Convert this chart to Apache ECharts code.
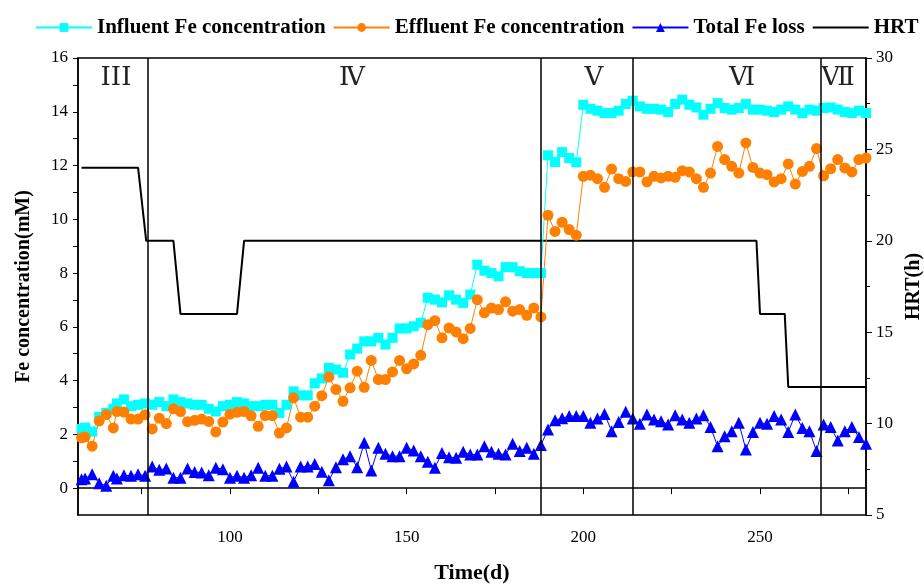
<!DOCTYPE html>
<html lang="en">
<head>
    <meta charset="UTF-8">
    <title>Fe concentration</title>
    <script type="text/javascript" src="https://cdn.jsdelivr.net/npm/echarts@6/dist/echarts.min.js"></script>
</head>
<body style="margin:0">
<div id="main" style="width:924px;height:585px"></div>
<script type="text/javascript">
    // sampling days (d)
    var days = [58,59,61,63,65,67,68,70,72,74,
        76,78,80,82,84,86,88,90,92,94,
        96,98,100,102,104,106,108,110,112,114,
        116,118,120,122,124,126,128,130,132,134,
        136,138,140,142,144,146,148,150,152,154,
        156,158,160,162,164,166,168,170,172,174,
        176,178,180,182,184,186,188,190,192,194,
        196,198,200,202,204,206,208,210,212,214,
        216,218,220,222,224,226,228,230,232,234,
        236,238,240,242,244,246,248,250,252,254,
        256,258,260,262,264,266,268,270,272,274,
        276,278,280];

    var influent = [2.2,2.25,2.1,2.65,2.8,2.95,3.15,3.3,3.05,3.1,
        3.15,3.1,3.2,3.05,3.3,3.2,3.15,3.1,3.1,2.95,
        2.85,3.05,3.1,3.2,3.15,3.05,3.05,3.1,3.1,2.8,
        3.1,3.6,3.45,3.45,3.9,4.08,4.47,4.41,4.29,4.97,
        5.19,5.46,5.46,5.59,5.34,5.59,5.94,5.94,6.02,6.15,
        7.08,7.01,6.91,7.17,7.01,6.89,7.2,8.31,8.09,8.0,
        7.88,8.22,8.22,8.07,8.0,8.0,8.0,12.38,12.13,12.5,
        12.28,12.12,14.26,14.11,14.04,13.95,13.95,14.04,14.29,14.41,
        14.2,14.11,14.11,14.08,13.99,14.29,14.45,14.26,14.16,13.89,
        14.11,14.32,14.14,14.08,14.14,14.29,14.08,14.08,14.04,13.99,
        14.08,14.2,14.08,13.95,14.08,14.04,14.14,14.16,14.08,13.99,
        13.95,14.04,13.95];

    var effluent = [1.87,1.9,1.56,2.5,2.73,2.24,2.85,2.83,2.57,2.57,
        2.73,2.2,2.6,2.4,2.95,2.85,2.47,2.52,2.57,2.48,
        2.09,2.46,2.75,2.82,2.85,2.69,2.3,2.7,2.7,2.05,
        2.24,3.36,2.64,2.64,3.05,3.44,4.13,3.67,3.23,3.73,
        4.35,3.75,4.75,4.04,4.04,4.32,4.75,4.44,4.62,4.94,
        6.08,6.23,5.59,5.96,5.81,5.56,5.94,7.01,6.52,6.7,
        6.64,6.93,6.58,6.64,6.43,6.7,6.37,10.15,9.55,9.89,
        9.62,9.41,11.6,11.64,11.51,11.19,11.87,11.51,11.41,11.76,
        11.76,11.39,11.6,11.54,11.6,11.56,11.81,11.76,11.51,11.19,
        11.72,12.71,12.22,11.97,11.72,12.84,11.93,11.72,11.66,11.39,
        11.51,12.06,11.31,11.78,11.97,12.63,11.62,11.88,12.22,11.91,
        11.76,12.22,12.28];

    var feLoss = [0.33,0.36,0.52,0.18,0.09,0.46,0.36,0.48,0.46,0.52,
        0.46,0.8,0.68,0.73,0.39,0.39,0.73,0.6,0.58,0.48,
        0.76,0.7,0.39,0.46,0.39,0.48,0.76,0.46,0.46,0.72,
        0.8,0.24,0.8,0.8,0.9,0.61,0.29,0.78,1.07,1.19,
        0.78,1.69,0.66,1.5,1.28,1.19,1.19,1.5,1.4,1.19,
        0.98,0.76,1.31,1.15,1.13,1.35,1.25,1.25,1.56,1.35,
        1.28,1.25,1.65,1.38,1.5,1.28,1.6,2.18,2.52,2.6,
        2.68,2.68,2.68,2.43,2.59,2.76,2.12,2.46,2.84,2.59,
        2.39,2.74,2.55,2.49,2.37,2.71,2.55,2.43,2.59,2.71,
        2.27,1.56,1.93,2.12,2.43,1.44,2.09,2.43,2.39,2.68,
        2.55,2.09,2.74,2.24,2.12,1.38,2.37,2.27,1.77,2.12,
        2.27,1.9,1.65];

    // HRT step line (day, h)
    var hrtDays = [58,74,76.3,84,86,102,104,249,250,257,258,280];
    var hrtValues = [24,24,20,20,16,16,20,20,16,16,12,12];

    // stage boundaries and labels
    var stageLines = [76.6,187.9,214,267.2];
    var stageNames = ['III','Ⅳ','Ⅴ','Ⅵ','Ⅶ'];
    var stageLabelX = [116,352,594,742,838];

    var xTicks = [75,100,125,150,175,200,225,250,275];
    var xLabels = [100,150,200,250];
    var yTicks = [0,1,2,3,4,5,6,7,8,9,10,11,12,13,14,15,16];
    var yLabels = [0,2,4,6,8,10,12,14,16];

    function pairs(xs, ys) {
        return xs.map(function (d, i) { return [d, ys[i]]; });
    }

    var serif = '"Liberation Serif", "Times New Roman", serif';
    var chart = echarts.init(document.getElementById('main'));

    chart.setOption({
        animation: false,
        textStyle: {fontFamily: serif},
        grid: {left: 78, right: 58, top: 58, bottom: 70, show: true, outerBoundsMode: 'none',
            borderColor: '#000', borderWidth: 1.5, backgroundColor: 'transparent'},
        legend: {
            top: 12, left: 30, width: 894, itemWidth: 56, itemHeight: 11, itemGap: 7,
            textStyle: {fontFamily: serif, fontWeight: 'bold', fontSize: 21, color: '#000'},
            data: ['Influent Fe concentration', 'Effluent Fe concentration', 'Total Fe loss',
                {name: 'HRT', itemStyle: {opacity: 0}}]
        },
        xAxis: {
            type: 'value', min: 57, max: 280,
            name: 'Time(d)', nameLocation: 'middle', nameGap: 47,
            nameTextStyle: {fontFamily: serif, fontWeight: 'bold', fontSize: 22, color: '#000'},
            axisLine: {lineStyle: {color: '#000', width: 1.5}},
            axisTick: {customValues: xTicks, length: 6, lineStyle: {color: '#000'}},
            axisLabel: {customValues: xLabels, fontSize: 17, color: '#000', margin: 14},
            splitLine: {show: false}
        },
        yAxis: [{
            type: 'value', min: -1, max: 16,
            name: 'Fe concentration(mM)', nameLocation: 'middle', nameGap: 44,
            nameTextStyle: {fontFamily: serif, fontWeight: 'bold', fontSize: 20, color: '#000'},
            axisLine: {show: true, lineStyle: {color: '#000', width: 1.5}},
            axisTick: {show: true, customValues: yTicks, length: 5, lineStyle: {color: '#000'}},
            axisLabel: {customValues: yLabels, fontSize: 17, color: '#000', margin: 10},
            splitLine: {show: false}
        }, {
            type: 'value', min: 5, max: 30, interval: 5, position: 'right',
            name: 'HRT(h)', nameLocation: 'middle', nameGap: 36,
            nameTextStyle: {fontFamily: serif, fontWeight: 'bold', fontSize: 20, color: '#000'},
            axisLine: {show: true, lineStyle: {color: '#000', width: 1.5}},
            axisTick: {show: true, length: 6, lineStyle: {color: '#000'}},
            minorTick: {show: true, splitNumber: 2, length: 4, lineStyle: {color: '#000'}},
            axisLabel: {fontSize: 17, color: '#000', margin: 10},
            splitLine: {show: false}
        }],
        graphic: stageNames.map(function (t, i) {
            return {
                type: 'text', x: stageLabelX[i], y: 78, z: 10,
                style: {text: t, font: '26px "DejaVu Serif", "Liberation Serif", serif',
                    fill: '#222', align: 'center', verticalAlign: 'middle'}
            };
        }),
        series: [{
            name: 'HRT', type: 'line', yAxisIndex: 1,
            data: pairs(hrtDays, hrtValues), showSymbol: false, symbol: 'none',
            lineStyle: {color: '#000', width: 2}, itemStyle: {color: '#000'},
            markLine: {
                silent: true, symbol: 'none', label: {show: false},
                lineStyle: {color: '#000', width: 1.5, type: 'solid'},
                data: stageLines.map(function (d) { return {xAxis: d}; })
            }
        }, {
            name: 'Influent Fe concentration', type: 'line',
            data: pairs(days, influent), symbol: 'rect', symbolSize: 10,
            lineStyle: {color: '#00FFFF', width: 1}, itemStyle: {color: '#00FFFF'}
        }, {
            name: 'Effluent Fe concentration', type: 'line',
            data: pairs(days, effluent), symbol: 'circle', symbolSize: 11,
            lineStyle: {color: '#FF8000', width: 1}, itemStyle: {color: '#FF8000'}
        }, {
            name: 'Total Fe loss', type: 'line',
            data: pairs(days, feLoss), symbol: 'triangle', symbolSize: 12,
            lineStyle: {color: '#0000FF', width: 1}, itemStyle: {color: '#0000FF'}
        }]
    });
</script>
</body>
</html>
